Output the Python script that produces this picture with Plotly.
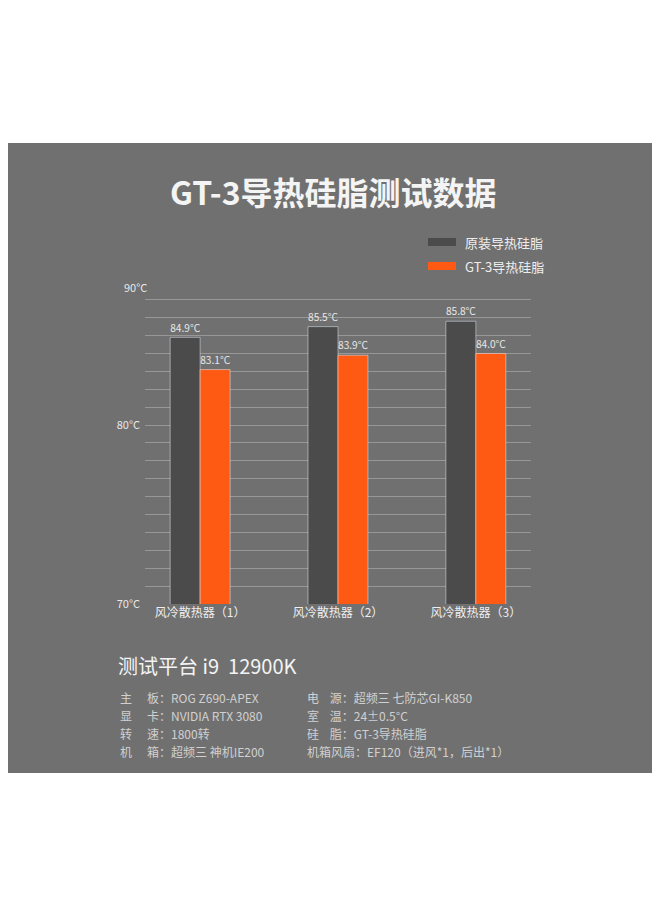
import plotly.graph_objects as go

categories = ["风冷散热器（1）", "风冷散热器（2）", "风冷散热器（3）"]
series_names = ["原装导热硅脂", "GT-3导热硅脂"]
original_vals = [84.9, 85.5, 85.8]
gt3_vals = [83.1, 83.9, 84.0]
y_tick_vals = [70, 80]
y_tick_text = ["70°C", "80°C"]
spec_left = [("主", "板", "ROG Z690-APEX"), ("显", "卡", "NVIDIA RTX 3080"),
             ("转", "速", "1800转"), ("机", "箱", "超频三 神机IE200")]
spec_right = [("电    源", "超频三 七防芯GI-K850"), ("室    温", "24±0.5°C"),
              ("硅    脂", "GT-3导热硅脂"), ("机箱风扇", "EF120（进风*1，后出*1）")]

FONT = "Noto Sans CJK SC"
GRAY_BAR = "#4b4b4b"
ORANGE = "#ff5a14"

# plot area in pixels
L, R, T, B = 137, 523, 290, 596
W, H = R - L, B - T
def px(x): return (x - L) / W
def py(y): return (B - y) / H

xs = list(range(len(categories)))
fig = go.Figure()
fig.add_bar(x=xs, y=original_vals, name=series_names[0], marker_color=GRAY_BAR,
            text=[f"{v:.1f}°C" for v in original_vals], textposition="outside",
            textfont=dict(color="#e8e8e8", size=11), cliponaxis=False)
fig.add_bar(x=xs, y=gt3_vals, name=series_names[1], marker_color=ORANGE,
            text=[f"{v:.1f}°C" for v in gt3_vals], textposition="outside",
            textfont=dict(color="#e8e8e8", size=11), cliponaxis=False)

shapes = [
    # card background
    dict(type="rect", xref="paper", yref="paper", x0=px(0), x1=px(660), y0=py(765), y1=py(135),
         fillcolor="#707070", line=dict(width=0), layer="below"),
    dict(type="rect", xref="paper", yref="paper", x0=px(420), x1=px(448), y0=py(238), y1=py(230),
         fillcolor=GRAY_BAR, line=dict(width=0)),
    dict(type="rect", xref="paper", yref="paper", x0=px(420), x1=px(448), y0=py(262), y1=py(254),
         fillcolor=ORANGE, line=dict(width=0)),
]

annotations = [
    dict(text="<b>GT-3导热硅脂测试数据</b>", x=px(325), y=py(183), font=dict(size=32, color="#f4f4f4")),
    dict(text=series_names[0], x=px(455), y=py(234), xanchor="left", font=dict(size=13, color="#eeeeee")),
    dict(text=series_names[1], x=px(455), y=py(258), xanchor="left", font=dict(size=13, color="#eeeeee")),
    dict(text="90°C", x=px(114), y=py(279), font=dict(size=11, color="#e8e8e8")),
    dict(text="测试平台 i9  12900K", x=px(108), y=py(657), xanchor="left", font=dict(size=20, color="#f4f4f4")),
]
for i, (a, b, v) in enumerate(spec_left):
    yy = py(689 + i * 18)
    annotations.append(dict(text=a, x=px(110), y=yy, xanchor="left", font=dict(size=12, color="#d0d0d0")))
    annotations.append(dict(text=f"{b}：{v}", x=px(137), y=yy, xanchor="left", font=dict(size=12, color="#d0d0d0")))
for i, (a, v) in enumerate(spec_right):
    yy = py(689 + i * 18)
    annotations.append(dict(text=f"{a}：{v}", x=px(297), y=yy, xanchor="left", font=dict(size=12, color="#d0d0d0")))
for a in annotations:
    a.update(xref="paper", yref="paper", showarrow=False, yanchor="middle")

fig.update_layout(
    width=660, height=900, margin=dict(l=L, r=660 - R, t=T, b=900 - B),
    paper_bgcolor="white", plot_bgcolor="rgba(0,0,0,0)",
    font=dict(family=FONT, color="#e8e8e8"),
    barmode="group", bargap=0.565, bargroupgap=0,
    showlegend=False, shapes=shapes, annotations=annotations,
    xaxis=dict(tickvals=xs, ticktext=categories, range=[-0.4, 2.4], showgrid=False,
               zeroline=False, tickfont=dict(size=12, color="#eeeeee"), ticklen=0),
    yaxis=dict(range=[70, 87.1], tickvals=y_tick_vals, ticktext=y_tick_text,
               tickfont=dict(size=11, color="#e8e8e8"), zeroline=False, showgrid=False,
               minor=dict(dtick=1, showgrid=True, gridcolor="rgba(200,200,200,0.45)", gridwidth=1),
               ticklabelstandoff=4),
)
fig.write_html("out.html")
